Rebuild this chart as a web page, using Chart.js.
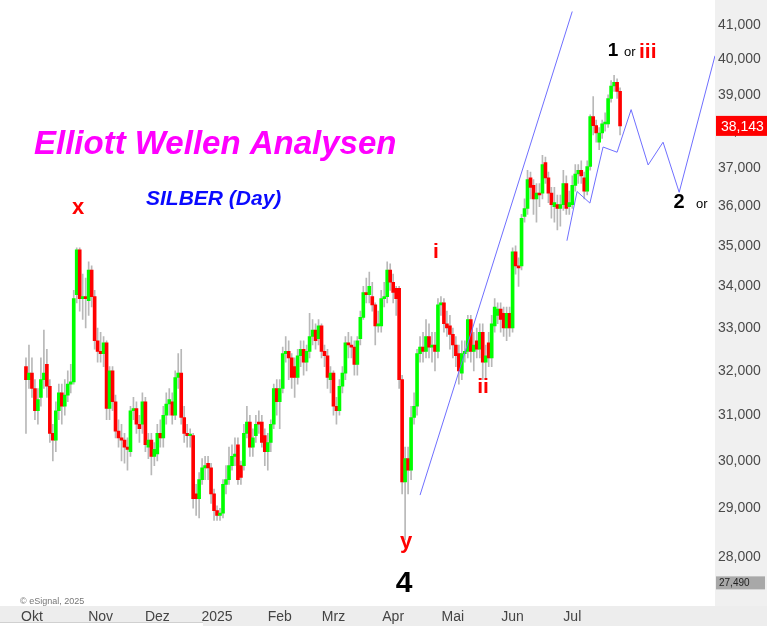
<!DOCTYPE html>
<html><head><meta charset="utf-8">
<script src="https://cdn.jsdelivr.net/npm/chart.js@4.4.1/dist/chart.umd.min.js"></script>
<style>html,body{margin:0;padding:0;background:#fff;overflow:hidden}</style>
</head><body>
<canvas id="c" width="767" height="626"></canvas>
<script>
// ---- data (daily candles, silver, values as shown on axis) ----
const monthLabels = ['Okt','Nov','Dez','2025','Feb','Mrz','Apr','Mai','Jun','Jul'];
const monthStartIdx = [2,25,44,64,85,103,123,143,163,183];
const yTickValues = [28000,29000,30000,31000,32000,33000,34000,35000,36000,37000,38000,39000,40000,41000];

const open = [32100,31800,31950,31600,31100,31400,31800,32150,31650,30600,
30450,31100,31500,31200,31450,31700,31750,33800,34900,33700,
33750,33650,34400,33750,32700,32450,32400,32650,31150,32000,
31300,30650,30500,30450,30300,30200,31100,31150,30800,30800,
31300,30300,30450,30100,30150,30600,30500,31000,31250,31300,
31000,31850,31950,30950,30600,30550,30550,29300,29200,29600,
29850,29950,29850,29300,28950,28850,28900,29500,29600,29900,
30100,30350,29900,29900,30600,30850,30300,30550,30850,30850,
30550,30200,30400,30800,31600,31300,31600,32400,32450,32300,
32100,31850,32350,32500,32200,32450,32800,32950,32750,33050,
32450,32350,31800,31950,31200,31100,31650,31950,32650,32600,
32550,32150,32750,33250,33850,33800,33750,33550,33050,33050,
33700,33750,34400,34100,33950,33950,31800,29550,30050,29800,
30950,31200,32400,32550,32450,32800,32550,32600,32450,33550,
33600,33100,33050,32850,32600,32400,31950,32400,32450,33200,
32450,32700,32500,32900,32200,32650,32300,33050,33300,33450,
33350,33000,33350,33000,34850,34500,34500,35750,35950,36750,
36550,36200,36350,36350,37150,36750,36350,36000,36050,35950,
36050,36600,36000,36050,36550,36850,36950,36750,36400,37050,
38400,38150,37700,37950,38200,38200,38900,39250,39350,39100];

const high = [32300,32600,32300,31800,31600,32300,32950,32500,31800,30800,
31300,31700,31700,31800,32000,32150,33900,34950,34950,34300,
34200,34600,34500,33900,33000,32900,32800,32700,32100,32100,
31450,30900,30800,30600,30500,31200,31400,31300,31000,31500,
31400,30600,30600,30400,30800,30900,31200,31500,31600,31500,
32000,32400,32500,31200,30800,30700,30600,29500,29750,30050,
30100,30100,29950,29400,29050,29000,29600,29900,30300,30350,
30500,30500,30000,30800,31200,31000,30700,31000,31100,31000,
30700,30600,30900,31700,31800,31800,32550,32800,32700,32400,
32300,32500,32700,32700,32600,33350,33200,33100,33200,33100,
32600,32500,32100,32000,31400,31800,32100,32800,32900,32800,
32700,32800,33400,34000,34200,34350,34100,33600,33400,33900,
34100,34600,34550,34300,34000,34000,31900,30300,30300,31200,
31500,32500,32800,32900,33200,33100,32900,32900,33700,33750,
33700,33400,33300,33000,32800,32600,32700,32700,33300,33300,
32900,33000,33100,33100,32600,32900,33300,33700,33600,33600,
33500,33500,33500,34950,35000,34700,35800,36200,36950,36900,
36700,36600,36600,37350,37300,36900,36500,36500,36300,36300,
36950,36800,36400,36800,37100,37100,37200,36900,37200,38450,
38950,38300,38100,38300,38500,39000,39400,39550,39450,39200];

const low = [30600,31600,31400,30900,30800,31200,31600,31400,30400,30000,
30200,30900,30800,31000,31300,31500,31700,33600,33400,33200,
33000,33300,33500,32500,32200,32200,32100,30900,30900,31100,
30500,30300,30000,29950,29800,30100,30900,30600,30400,30600,
30200,30050,29700,29900,30000,30300,30300,30800,31000,30800,
30900,31600,30800,30400,30300,30300,29000,28850,28800,29500,
29600,29600,29100,28750,28750,28750,28800,29300,29500,29800,
29900,29500,29500,29800,30500,30100,30100,30400,30600,30300,
29900,29800,30200,30700,31000,30700,31500,32200,31800,31600,
31400,31700,32100,31900,32000,32300,32600,32500,32600,32300,
32100,31600,31500,31000,30800,31000,31500,31800,32300,32300,
31900,31900,32600,33200,33600,33600,33400,32600,32900,32900,
33500,33600,33900,33600,33300,31600,29300,28350,29300,29600,
30800,31000,32200,32200,32300,32300,32200,32000,32300,33300,
32900,32800,32500,32300,32100,31700,31800,32200,32300,32200,
32000,32300,32300,31800,31800,32100,32100,32900,33100,32900,
32800,32700,32800,32900,34300,34000,34400,35600,35800,36200,
35800,35600,36000,36200,36600,36100,35700,35600,35400,35500,
35900,35800,35800,35950,36400,36600,36600,36200,36300,36950,
37900,37700,37500,37800,38000,38100,38800,39100,38900,37900];

const close = [31800,31950,31600,31100,31350,31800,31950,31650,30600,30450,
31100,31500,31200,31450,31700,31750,33700,34900,33700,33750,
33700,34400,33750,32700,32450,32400,32650,31150,32000,31300,
30650,30500,30450,30300,30250,31100,31150,30800,30700,31300,
30350,30450,30100,30250,30600,30500,31000,31250,31350,31000,
31850,31950,30950,30600,30550,30550,29200,29200,29600,29850,
29900,29850,29300,28950,28850,28900,29500,29600,29900,30100,
30150,29600,29650,30600,30850,30300,30500,30800,30800,30400,
30200,30400,30800,31600,31300,31600,32400,32450,32300,31850,
31850,32350,32500,32200,32450,32800,32950,32700,33050,32450,
32350,31850,31950,31200,31100,31650,31950,32650,32600,32550,
32150,32700,33250,33850,33800,34000,33550,33050,33100,33700,
33750,34400,34100,33850,33700,31800,29550,30050,29800,30950,
31200,32400,32550,32450,32800,32550,32600,32450,33550,33600,
33100,33000,32850,32600,32350,32000,32400,32450,33200,32450,
32600,32500,32900,32200,32350,32300,33100,33500,33450,33200,
33000,33350,33000,34850,34500,34450,35700,35950,36700,36500,
36200,36350,36300,37100,36750,36350,36050,36100,35950,36050,
36600,35950,36100,36550,36850,36950,36800,36400,37050,38400,
38150,37950,37950,38200,38250,38900,39250,39350,39100,38143];

// drawn trend lines (day index, price)
const channelIdx = [132.0, 192.3];
const channelVal = [29275, 44111];
const waveIdx = [181.2, 184.6, 188.9, 193.3, 198.0, 202.7, 208.4, 213.4, 218.8, 230.8];
const waveVal = [35130, 36390, 36090, 37570, 37430, 38590, 37090, 37700, 36370, 40110];
const markerValue = 27490;

// ---- build datasets ----
const bodies = open.map((o, i) => ({x: i, y: [o, close[i]]}));
const wicks = low.map((l, i) => ({x: i, y: [l, high[i]]}));
const bodyColors = open.map((o, i) => close[i] >= o ? '#00ff00' : '#ff0000');
const channel = channelIdx.map((x, i) => ({x, y: channelVal[i]}));
const wave = waveIdx.map((x, i) => ({x, y: waveVal[i]}));

const FONT = '"Liberation Sans", Arial, sans-serif';
Chart.defaults.font.family = FONT;

const bgPlugin = {
  id: 'bg',
  beforeDraw(chart) {
    const {ctx, chartArea: a, width, height} = chart;
    ctx.save();
    ctx.fillStyle = '#ffffff';
    ctx.fillRect(0, 0, width, height);
    ctx.fillStyle = '#f0f0f0';
    ctx.fillRect(a.right, 0, width - a.right, a.bottom);
    ctx.fillStyle = '#ededed';
    ctx.fillRect(0, a.bottom, width, height - a.bottom);
    ctx.fillStyle = '#ffffff';
    ctx.fillRect(0, height - 4, 203, 4);
    ctx.fillStyle = '#d0d0d0';
    ctx.fillRect(0, height - 4, 203, 1);
    ctx.restore();
  }
};

const annPlugin = {
  id: 'ann',
  afterDraw(chart) {
    const {ctx, chartArea: a, width, scales} = chart;
    const ys = scales.y;
    ctx.save();
    const txt = (s, x, y, font, color, align) => {
      ctx.font = font; ctx.fillStyle = color; ctx.textAlign = align || 'center';
      ctx.textBaseline = 'alphabetic'; ctx.fillText(s, x, y);
    };
    txt('Elliott Wellen Analysen', 34, 154, 'italic bold 33px ' + FONT, '#ff00ff', 'left');
    txt('SILBER (Day)', 146, 205, 'italic bold 21px ' + FONT, '#0a0aff', 'left');
    txt('x', 78, 214, 'bold 22px ' + FONT, '#ff0000');
    txt('i', 436, 258, 'bold 21px ' + FONT, '#ff0000');
    txt('ii', 483, 393, 'bold 21px ' + FONT, '#ff0000');
    txt('y', 406, 548, 'bold 22px ' + FONT, '#ff0000');
    txt('4', 404, 592, 'bold 30px ' + FONT, '#000000');
    txt('1', 613, 56, 'bold 19px ' + FONT, '#000000');
    txt('or', 624, 56, '13px ' + FONT, '#000000', 'left');
    txt('iii', 639, 58, 'bold 21px ' + FONT, '#ff0000', 'left');
    txt('2', 679, 208, 'bold 20px ' + FONT, '#000000');
    txt('or', 696, 208, '13px ' + FONT, '#000000', 'left');
    txt('\u00a9 eSignal, 2025', 20, 604, '9px ' + FONT, '#777777', 'left');

    // last price box
    const last = close[close.length - 1];
    const py = ys.getPixelForValue(last);
    ctx.fillStyle = '#ff0000';
    ctx.fillRect(a.right + 1, py - 10, width - a.right - 1, 20);
    txt(last.toLocaleString('en-US'), a.right + 6, py + 5, '14px ' + FONT, '#ffffff', 'left');
    // marker box
    const my = ys.getPixelForValue(markerValue);
    ctx.fillStyle = '#a8a8a8';
    ctx.fillRect(a.right + 1, my - 6.5, 49, 13);
    txt(markerValue.toLocaleString('en-US'), a.right + 4, my + 3.5, '10px ' + FONT, '#222222', 'left');
    ctx.restore();
  }
};

new Chart(document.getElementById('c'), {
  data: {
    datasets: [
      {type: 'line', data: channel, borderColor: '#6f6fff', borderWidth: 1, pointRadius: 0, tension: 0, order: 0},
      {type: 'line', data: wave, borderColor: '#6f6fff', borderWidth: 1, pointRadius: 0, tension: 0, order: 0},
      {type: 'bar', data: bodies, backgroundColor: bodyColors, barThickness: 3, minBarLength: 1.5, grouped: false, order: 1},
      {type: 'bar', data: wicks, backgroundColor: '#b8b8b8', barThickness: 1, grouped: false, order: 2}
    ]
  },
  options: {
    responsive: false,
    devicePixelRatio: 1,
    animation: false,
    layout: {padding: 0},
    plugins: {legend: {display: false}, tooltip: {enabled: false}},
    scales: {
      x: {
        type: 'linear', min: -8.7, max: 230.8, offset: false,
        afterBuildTicks: s => { s.ticks = monthStartIdx.map(v => ({value: v})); },
        afterFit: s => { s.height = 20; },
        grid: {display: false, drawTicks: false},
        border: {display: false},
        ticks: {autoSkip: false, maxRotation: 0, padding: 3, color: '#444444',
                font: {size: 14}, callback: (v, i) => monthLabels[i]}
      },
      y: {
        type: 'logarithmic', position: 'right', min: 27038, max: 41405,
        afterBuildTicks: s => { s.ticks = yTickValues.map(v => ({value: v})); },
        afterFit: s => { s.width = 52; },
        grid: {display: false, drawTicks: false},
        border: {display: false},
        ticks: {autoSkip: false, padding: 3, color: '#4a4a4a', font: {size: 14},
                callback: v => Number(v).toLocaleString('en-US')}
      }
    }
  },
  plugins: [bgPlugin, annPlugin]
});
</script>
</body></html>
